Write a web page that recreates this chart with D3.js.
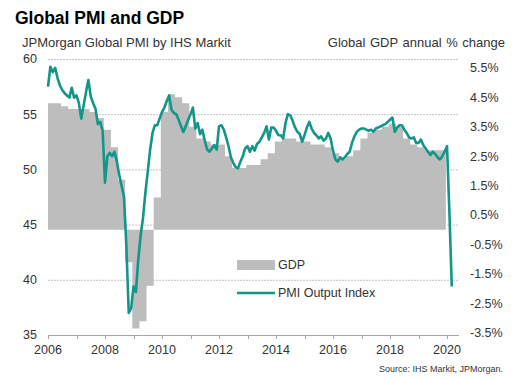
<!DOCTYPE html>
<html>
<head>
<meta charset="utf-8">
<script src="https://cdn.jsdelivr.net/npm/d3@7"></script>
<style>
  body { margin: 0; background: #fff; }
  text { font-family: "Liberation Sans", Arial, sans-serif; fill: #333; }
</style>
</head>
<body>
<svg id="chart" width="522" height="380"></svg>
<script>
// monthly PMI output index, Jan 2006 .. Mar 2020
var startYear = 2006;
var pmi = [
  57.5, 59.3, 58.8, 59.2, 58.3, 57.6, 57.2, 56.9, 56.7, 56.5, 57.4, 56.5,
  56.7, 56.0, 54.6, 55.8, 57.0, 58.1, 56.6, 56.0, 55.5, 54.1, 54.3, 53.5,
  48.8, 51.2, 51.5, 51.2, 51.6, 50.7, 49.5, 48.5, 47.5, 43.0, 37.0, 37.4,
  39.4, 38.9, 41.8, 44.0, 45.6, 47.9, 49.8, 51.8, 53.3, 54.0, 54.0, 54.6,
  55.2, 55.6, 56.2, 56.7, 55.4, 55.1, 55.0, 54.5, 53.9, 53.4, 53.9, 54.5,
  55.0, 55.6, 53.7, 54.2, 53.2, 53.6, 52.6, 51.8, 51.6, 51.9, 52.2, 51.8,
  53.9, 54.0, 53.6, 52.9, 52.1, 51.1, 50.6, 50.2, 50.1, 50.7, 51.2, 51.9,
  52.1, 51.6, 52.1, 51.7, 52.3, 52.5, 52.9, 53.3, 53.9, 52.7, 53.8, 53.8,
  53.5, 53.1, 53.1, 52.8, 54.2, 55.0, 54.9, 54.4, 53.8, 53.4, 53.2, 52.5,
  53.1, 53.8, 54.3, 53.7, 53.3, 53.1, 52.8, 53.0, 52.6, 52.8, 53.3, 52.8,
  51.7, 50.9, 50.7, 51.1, 50.9, 51.1, 51.4, 51.6, 52.4, 53.0, 53.4, 53.6,
  53.7, 53.7, 53.6, 53.5, 53.6, 53.4, 53.7, 53.8, 53.9, 54.0, 54.1, 54.3,
  54.5, 54.7, 53.4, 53.8, 54.0, 54.0, 53.6, 53.3, 52.9, 52.8, 52.9, 52.4,
  52.4, 52.7, 52.2, 51.9, 51.6, 51.3, 51.6, 51.4, 51.1, 50.9, 51.2, 51.6,
  52.1, 46.1, 39.4
];

// quarterly global GDP, annual % change, Q1 2006 .. Q4 2019
var gdp = [
  4.3, 4.3, 4.2, 4.1,
  4.1, 4.1, 4.0, 3.8,
  3.4, 2.8, 1.7, -1.1,
  -3.35, -3.1, -1.9, 1.1,
  4.0, 4.6, 4.5, 4.3,
  3.5, 3.1, 3.0, 2.9,
  2.9, 2.5, 2.1, 2.1,
  2.2, 2.2, 2.4, 2.6,
  3.0, 3.1, 3.1, 3.0,
  3.0, 2.9, 2.9, 2.8,
  2.6, 2.4, 2.5, 2.7,
  3.1, 3.3, 3.4, 3.5,
  3.6, 3.5, 3.1, 2.9,
  2.8, 2.7, 2.7, 2.7
];

var leftTicks = [35, 40, 45, 50, 55, 60];
var gridTicks = [40, 45, 50, 55, 60];
var rightTicks = [-3.5, -2.5, -1.5, -0.5, 0.5, 1.5, 2.5, 3.5, 4.5, 5.5];
var yearTicks = d3.range(2006, 2021);
var yearLabels = [2006, 2008, 2010, 2012, 2014, 2016, 2018, 2020];

var teal = "#12968a",
    grey = "#bdbdbd";

var svg = d3.select("#chart");

var plot = { left: 48, right: 459, top: 59, bottom: 335 };

var x = d3.scaleLinear().domain([2006, 2020.42]).range([plot.left, plot.right]);
var yL = d3.scaleLinear().domain([35, 60]).range([plot.bottom, plot.top]);
var yR = d3.scaleLinear().domain([-3.57, 5.8]).range([plot.bottom, plot.top]);

function monthX(i) { return x(startYear + i / 12); }

// titles
svg.append("text")
    .attr("x", 15).attr("y", 24)
    .style("font-size", "17.5px").style("font-weight", "bold").style("fill", "#000")
    .text("Global PMI and GDP");
svg.append("text")
    .attr("x", 22).attr("y", 47)
    .style("font-size", "13px")
    .text("JPMorgan Global PMI by IHS Markit");
svg.append("text")
    .attr("x", 505).attr("y", 47).attr("text-anchor", "end")
    .style("font-size", "13px")
    .style("word-spacing", "1px")
    .text("Global GDP annual % change");

// gridlines
svg.append("g").selectAll("line")
    .data(gridTicks)
    .enter().append("line")
    .attr("x1", plot.left).attr("x2", plot.right)
    .attr("y1", function(d) { return yL(d) + 0.5; })
    .attr("y2", function(d) { return yL(d) + 0.5; })
    .style("stroke", "#c4c4c4")
    .style("stroke-dasharray", "2,1");

// gdp as a step area (quarters centred on their months)
var gdpSteps = gdp.map(function(v, q) {
    return { t: Math.max(startYear, startYear + (3 * q - 0.5) / 12), v: v };
});
gdpSteps.push({ t: startYear + (3 * gdp.length - 0.5) / 12, v: gdp[gdp.length - 1] });

var gdpArea = d3.area()
    .curve(d3.curveStepAfter)
    .x(function(d) { return x(d.t); })
    .y0(yR(0))
    .y1(function(d) { return yR(d.v); });

svg.append("path")
    .datum(gdpSteps)
    .attr("d", gdpArea)
    .style("fill", grey);

// x axis
svg.append("line")
    .attr("x1", plot.left).attr("x2", plot.right)
    .attr("y1", plot.bottom + 0.5).attr("y2", plot.bottom + 0.5)
    .style("stroke", "#a6a6a6");
svg.append("g").selectAll("line")
    .data(yearTicks)
    .enter().append("line")
    .attr("x1", function(d) { return Math.round(x(d)) + 0.5; })
    .attr("x2", function(d) { return Math.round(x(d)) + 0.5; })
    .attr("y1", plot.bottom).attr("y2", plot.bottom + 4)
    .style("stroke", "#a6a6a6");
svg.append("g").selectAll("text")
    .data(yearLabels)
    .enter().append("text")
    .attr("x", function(d) { return x(d); })
    .attr("y", 354)
    .attr("text-anchor", "middle")
    .style("font-size", "12.5px")
    .text(function(d) { return d; });

// left axis labels
svg.append("g").selectAll("text")
    .data(leftTicks)
    .enter().append("text")
    .attr("x", 37)
    .attr("y", function(d) { return yL(d); })
    .attr("dy", "0.35em")
    .attr("text-anchor", "end")
    .style("font-size", "12.5px")
    .text(function(d) { return d; });

// right axis labels
svg.append("g").selectAll("text")
    .data(rightTicks)
    .enter().append("text")
    .attr("x", 470)
    .attr("y", function(d) { return yR(d); })
    .attr("dy", "0.35em")
    .style("font-size", "12.5px")
    .text(function(d) { return d.toFixed(1) + "%"; });

// pmi line
var line = d3.line()
    .x(function(d, i) { return monthX(i); })
    .y(function(d) { return yL(d); });

svg.append("path")
    .datum(pmi)
    .attr("d", line)
    .style("fill", "none")
    .style("stroke", teal)
    .style("stroke-width", 2.6)
    .style("stroke-linejoin", "round");

// legend
var legend = svg.append("g");
legend.append("rect")
    .attr("x", 237).attr("y", 260).attr("width", 38).attr("height", 10)
    .style("fill", grey);
legend.append("text")
    .attr("x", 278).attr("y", 265).attr("dy", "0.35em")
    .style("font-size", "12.5px")
    .text("GDP");
legend.append("line")
    .attr("x1", 237).attr("x2", 275).attr("y1", 293).attr("y2", 293)
    .style("stroke", teal).style("stroke-width", 2.6);
legend.append("text")
    .attr("x", 278).attr("y", 293).attr("dy", "0.35em")
    .style("font-size", "12.5px")
    .text("PMI Output Index");

// source
svg.append("text")
    .attr("x", 503).attr("y", 372).attr("text-anchor", "end")
    .style("font-size", "9px")
    .text("Source: IHS Markit, JPMorgan.");
</script>
</body>
</html>
